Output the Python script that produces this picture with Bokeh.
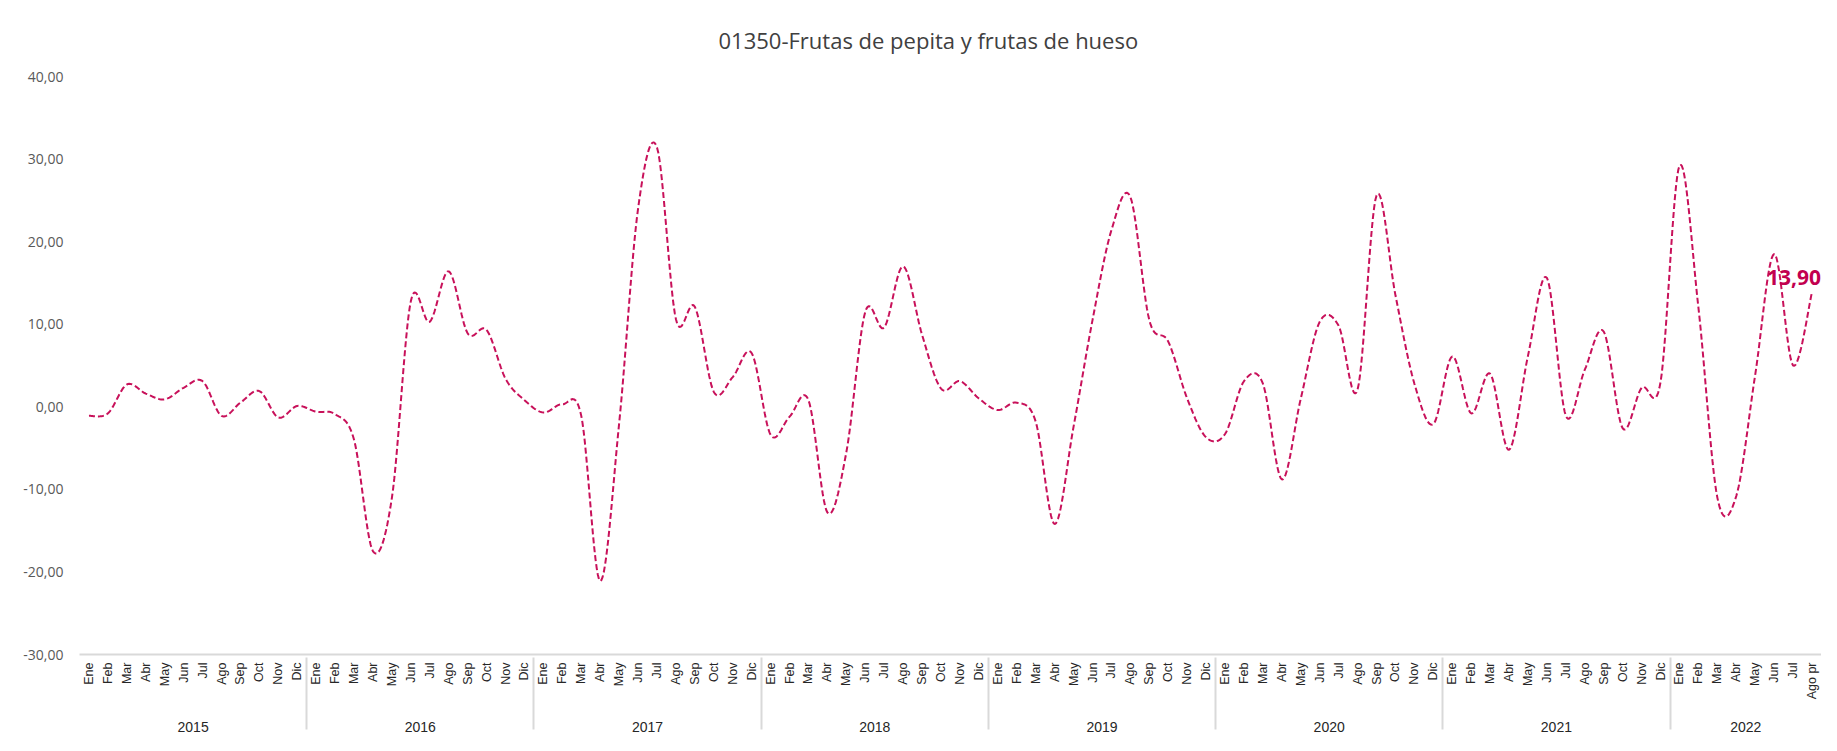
import math
import numpy as np
from bokeh.plotting import figure
from bokeh.models import (FactorRange, FixedTicker, CustomJSTickFormatter,
                          ColumnDataSource, LabelSet, Range1d)
from bokeh.core.properties import value
from bokeh.embed import file_html
from bokeh.resources import INLINE

# ---------------- data ----------------
title_text = "01350-Frutas de pepita y frutas de hueso"
years = ["2015", "2016", "2017", "2018", "2019", "2020", "2021", "2022"]
months = ["Ene", "Feb", "Mar", "Abr", "May", "Jun", "Jul", "Ago", "Sep", "Oct", "Nov", "Dic"]
last_label = "Ago pr"

v2015 = [-1.1, -0.8, 2.7, 1.6, 0.9, 2.3, 3.1, -1.1, 0.5, 1.9, -1.3, 0.1]
v2016 = [-0.6, -0.9, -4.0, -17.5, -11.0, 12.8, 10.3, 16.4, 8.9, 9.3, 3.4, 0.8]
v2017 = [-0.7, 0.3, -1.1, -21.1, -2.0, 24.0, 31.4, 10.6, 12.1, 1.8, 3.6, 6.5]
v2018 = [-3.4, -1.2, 0.8, -12.8, -5.5, 11.5, 9.6, 17.0, 8.7, 2.2, 3.1, 1.0]
v2019 = [-0.4, 0.5, -1.8, -14.2, -2.4, 10.5, 21.4, 25.4, 10.5, 7.9, 1.0, -3.7]
v2020 = [-3.3, 3.1, 2.8, -8.8, 1.0, 10.3, 9.8, 2.1, 25.6, 13.5, 2.8, -2.1]
v2021 = [6.1, -0.8, 4.0, -5.2, 6.2, 15.6, -1.1, 4.5, 9.1, -2.6, 2.3, 3.0]
v2022 = [29.2, 12.0, -11.0, -10.8, 3.9, 18.5, 5.0, 13.90]

y_ticks = [-30, -20, -10, 0, 10, 20, 30, 40]

series = [v2015, v2016, v2017, v2018, v2019, v2020, v2021, v2022]

# ---------------- build factors ----------------
factors = []
values = []
for yr, vals in zip(years, series):
    for k, v in enumerate(vals):
        m = months[k]
        if yr == years[-1] and k == len(vals) - 1:
            m = last_label
        factors.append((yr, " ", m))
        values.append(v)
values = np.array(values, dtype=float)
n = len(values)

# smoothed (Excel-like) curve through the points, in synthetic coordinates
xc = np.arange(n) + 0.5
P = np.column_stack([xc, values])
Pext = np.vstack([P[0], P, P[-1]])
sx, sy = [], []
steps = 16
for i in range(n - 1):
    p0, p1, p2, p3 = Pext[i], Pext[i + 1], Pext[i + 2], Pext[i + 3]
    c1 = p1 + (p2 - p0) / 6.0
    c2 = p2 - (p3 - p1) / 6.0
    for t in np.linspace(0, 1, steps, endpoint=False):
        b = ((1 - t) ** 3) * p1 + 3 * ((1 - t) ** 2) * t * c1 + 3 * (1 - t) * t * t * c2 + (t ** 3) * p2
        sx.append(b[0]); sy.append(b[1])
sx.append(P[-1][0]); sy.append(P[-1][1])

COLOR = "#C8115A"
LABEL_COLOR = "#C2004F"

x_range = FactorRange(*factors, factor_padding=0, subgroup_padding=0,
                      group_padding=0, range_padding=0)

p = figure(x_range=x_range, y_range=Range1d(y_ticks[0], y_ticks[-1]),
           width=1821, height=735, output_backend="svg", toolbar_location=None,
           min_border_left=79, min_border_right=0, min_border_top=76,
           min_border_bottom=79)

p.title.text = title_text
p.title.text_font = "Open Sans"
p.title.text_font_size = "22px"
p.title.text_font_style = "normal"
p.title.text_color = "#404040"
p.title.align = "left"
p.title.offset = 639
p.title.standoff = 43

p.outline_line_color = None
p.xgrid.visible = False
p.ygrid.visible = False
p.background_fill_color = "white"
p.border_fill_color = "white"

# y axis
yax = p.yaxis[0]
yax.ticker = FixedTicker(ticks=y_ticks)
yax.formatter = CustomJSTickFormatter(code="return tick.toFixed(2).replace('.', ',');")
yax.axis_line_color = None
yax.major_tick_line_color = None
yax.minor_tick_line_color = None
yax.major_tick_out = 0
yax.major_tick_in = 0
yax.major_label_standoff = 16
yax.major_label_text_font = "Open Sans"
yax.major_label_text_font_size = "14px"
yax.major_label_text_color = "#595959"

# x axis
xax = p.xaxis[0]
xax.axis_line_color = "#D9D9D9"
xax.axis_line_width = 2
xax.major_tick_line_color = None
xax.major_tick_out = 0
xax.major_tick_in = 0
xax.minor_tick_line_color = None
xax.major_label_orientation = math.pi / 2
xax.major_label_standoff = 8
xax.major_label_text_font = "Liberation Sans"
xax.major_label_text_font_size = "12.5px"
xax.major_label_text_color = "#262626"
xax.subgroup_text_font_size = "1px"
xax.subgroup_text_color = "white"
xax.group_text_font = "Liberation Sans"
xax.group_text_font_size = "14px"
xax.group_text_font_style = "normal"
xax.group_text_color = "#262626"
xax.separator_line_color = "#D9D9D9"
xax.separator_line_width = 2

# line
p.line(sx, sy, line_color=COLOR, line_width=2, line_dash="6 3")

# last value label
last_src = ColumnDataSource(data=dict(x=[xc[-1]], y=[values[-1]],
                                      t=[f"{values[-1]:.2f}".replace(".", ",")]))
p.add_layout(LabelSet(x="x", y="y", text="t", source=last_src,
                      text_align="right", text_baseline="alphabetic",
                      x_offset=9, y_offset=7,
                      text_font=value("Open Sans"), text_font_size=value("21px"),
                      text_font_style=value("bold"), text_color=LABEL_COLOR))

open("out.html", "w").write(file_html(p, INLINE))
